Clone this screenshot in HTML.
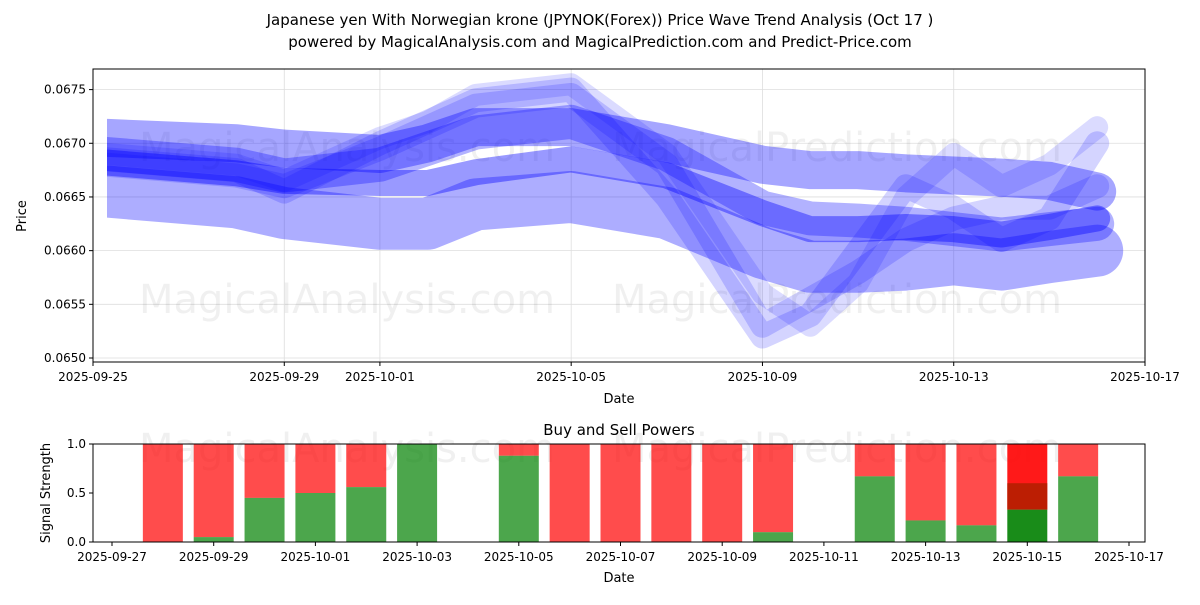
<!DOCTYPE html>
<html><head><meta charset="utf-8"><style>
body{margin:0;background:#fff;font-family:"Liberation Sans","DejaVu Sans",sans-serif;}
svg text{font-family:"DejaVu Sans","Liberation Sans",sans-serif;}
</style></head><body>
<svg id="c" width="1200" height="600" xmlns="http://www.w3.org/2000/svg">
<defs><clipPath id="cp"><rect x="107" y="69" width="1038" height="293"/></clipPath>
<clipPath id="cp2"><rect x="93" y="444" width="1052" height="98"/></clipPath></defs>
<text x="600" y="25" text-anchor="middle" font-size="15">Japanese yen With Norwegian krone (JPYNOK(Forex)) Price Wave Trend Analysis (Oct 17 )</text>
<text x="600" y="47" text-anchor="middle" font-size="15">powered by MagicalAnalysis.com and MagicalPrediction.com and Predict-Price.com</text>
<g id="topg"></g><g id="botg"></g>
</svg>
<script>
const days=[0.3,3,4,6,7,8,10,12,14,15,16,17,18,19,20,21];
const s1=[0.06705,0.06700,0.06695,0.06690,0.06700,0.06715,0.06715,0.06700,0.06680,0.06675,0.06675,0.06672,0.06670,0.06668,0.06665,0.06655];
const s2=[0.06655,0.06645,0.06635,0.06625,0.06625,0.06643,0.06650,0.06635,0.06598,0.06585,0.06585,0.06587,0.06592,0.06587,0.06594,0.06600];
const s3=[0.06682,0.06672,0.06665,0.06663,0.06663,0.06673,0.06685,0.06670,0.06635,0.06620,0.06620,0.06622,0.06620,0.06615,0.06622,0.06630];
const s4=[0.06680,0.06670,0.06660,0.06695,0.06715,0.06735,0.06745,0.06680,0.06530,0.06555,0.06580,0.06610,0.06630,0.06640,0.06640,0.06660];
const s5=[0.06685,0.06675,0.06655,0.06700,0.06720,0.06740,0.06750,0.06650,0.06520,0.06540,0.06600,0.06660,0.06640,0.06610,0.06630,0.06700];
const s6=[0.06690,0.06680,0.06665,0.06705,0.06720,0.06745,0.06755,0.06690,0.06560,0.06530,0.06570,0.06650,0.06690,0.06660,0.06680,0.06715];
const s7=[0.06690,0.06680,0.06670,0.06680,0.06695,0.06710,0.06720,0.06690,0.06640,0.06630,0.06628,0.06625,0.06620,0.06615,0.06620,0.06625];
const xTickLabels=["2025-09-25","2025-09-29","2025-10-01","2025-10-05","2025-10-09","2025-10-13","2025-10-17"];
const xTickDays=[0,4,6,10,14,18,22];
const yTicks=[0.0650,0.0655,0.0660,0.0665,0.0670,0.0675];
const barDays=[1,2,3,4,5,6,8,9,10,11,12,13,15,16,17,18,19];
const buy=[0,0.05,0.45,0.5,0.56,1.0,0.88,0,0,0,0,0.1,0.67,0.22,0.17,0.33,0.67];
const bTickLabels=["2025-09-27","2025-09-29","2025-10-01","2025-10-03","2025-10-05","2025-10-07","2025-10-09","2025-10-11","2025-10-13","2025-10-15","2025-10-17"];
const bTickDays=[0,2,4,6,8,10,12,14,16,18,20];
const bY=[0,0.5,1.0];
const NS="http://www.w3.org/2000/svg";
function mk(p,t,a){const e=document.createElementNS(NS,t);for(const k in a)e.setAttribute(k,a[k]);p.appendChild(e);return e;}
const X=d=>93+d*(1052/22), Y=v=>358-(v-0.0650)/0.0025*268.4;
const topG=document.getElementById('topg'),botG=document.getElementById('botg');
xTickDays.forEach((d,i)=>{const x=X(d);
 const g=mk(topG,'line',{x1:x,x2:x,y1:69,y2:362,stroke:'#ddd','stroke-width':0.8});
 
 
 mk(topG,'line',{x1:x,x2:x,y1:362,y2:366,stroke:'#000'});
 const t=mk(topG,'text',{x:x,y:381,'text-anchor':'middle','font-size':12});t.textContent=xTickLabels[i];
 
 });
yTicks.forEach(v=>{const y=Y(v);
 const g=mk(topG,'line',{x1:93,x2:1145,y1:y,y2:y,stroke:'#ddd','stroke-width':0.8});
 
 
 mk(topG,'line',{x1:89,x2:93,y1:y,y2:y,stroke:'#000'});
 const t=mk(topG,'text',{x:86,y:y+4,'text-anchor':'end','font-size':12});t.textContent=v.toFixed(4);
 
 });
const wm=[["MagicalAnalysis.com",347,161],["MagicalPrediction.com",837,161],["MagicalAnalysis.com",347,313],["MagicalPrediction.com",837,313]];
wm.forEach(w=>{const t=mk(topG,'text',{x:w[1],y:w[2],'text-anchor':'middle','font-size':40,fill:'#000','fill-opacity':0.06});t.textContent=w[0];
 
 });
const series=[[s2,52,0.32],[s1,38,0.35],[s7,34,0.3],[s3,26,0.4],[s4,24,0.17],[s5,24,0.17],[s6,22,0.14]];
const cg=mk(topG,'g',{'clip-path':'url(#cp)'});
series.forEach((s,i)=>{const pts=s[0].map((v,j)=>X(days[j])+','+Y(v)).join(' ');
 const p=mk(cg,'polyline',{points:pts,fill:'none',stroke:'#0000ff','stroke-opacity':s[2],'stroke-width':s[1],'stroke-linejoin':'round','stroke-linecap':'round'});
 
 });
const fr=mk(topG,'rect',{x:93,y:69,width:1052,height:293,fill:'none',stroke:'#000'});


let tt=mk(topG,'text',{x:619,y:403,'text-anchor':'middle','font-size':13});tt.textContent='Date';


tt=mk(topG,'text',{x:26,y:216,'text-anchor':'middle','font-size':13,transform:'rotate(-90 26 216)'});tt.textContent='Price';


const BX=d=>112+d*50.85, BY=v=>542-v*98;
wm.slice(0,2).forEach(w=>{const t=mk(botG,'text',{x:w[1],y:462,'text-anchor':'middle','font-size':40,fill:'#000','fill-opacity':0.06});t.textContent=w[0];
 
 });
const bg=mk(botG,'g',{'clip-path':'url(#cp2)'});
barDays.forEach((d,i)=>{const x=BX(d)-20,b=buy[i];const special=(d===18);
 const r=mk(bg,'rect',{x:x,y:BY(1),width:40,height:98*(1-b),fill:'#ff0000','fill-opacity':special?0.9:0.7});
 
 
 if(special){const r2=mk(bg,'rect',{x:x,y:BY(0.6),width:40,height:98*(0.6-b),fill:'#b02000','fill-opacity':0.85});
 
 }
 const g=mk(bg,'rect',{x:x,y:BY(b),width:40,height:98*b,fill:'#008000','fill-opacity':special?0.9:0.7});
 
 });
bTickDays.forEach((d,i)=>{const x=BX(d);mk(botG,'line',{x1:x,x2:x,y1:542,y2:546,stroke:'#000'});
 const t=mk(botG,'text',{x:x,y:561,'text-anchor':'middle','font-size':12});t.textContent=bTickLabels[i];
 
 });
bY.forEach(v=>{const y=BY(v);mk(botG,'line',{x1:89,x2:93,y1:y,y2:y,stroke:'#000'});
 const t=mk(botG,'text',{x:86,y:y+4,'text-anchor':'end','font-size':12});t.textContent=v.toFixed(1);
 
 });
const f2=mk(botG,'rect',{x:93,y:444,width:1052,height:98,fill:'none',stroke:'#000'});


tt=mk(botG,'text',{x:619,y:435,'text-anchor':'middle','font-size':15});tt.textContent='Buy and Sell Powers';


tt=mk(botG,'text',{x:619,y:582,'text-anchor':'middle','font-size':13});tt.textContent='Date';


tt=mk(botG,'text',{x:50,y:493,'text-anchor':'middle','font-size':13,transform:'rotate(-90 50 493)'});tt.textContent='Signal Strength';


</script>
</body></html>
